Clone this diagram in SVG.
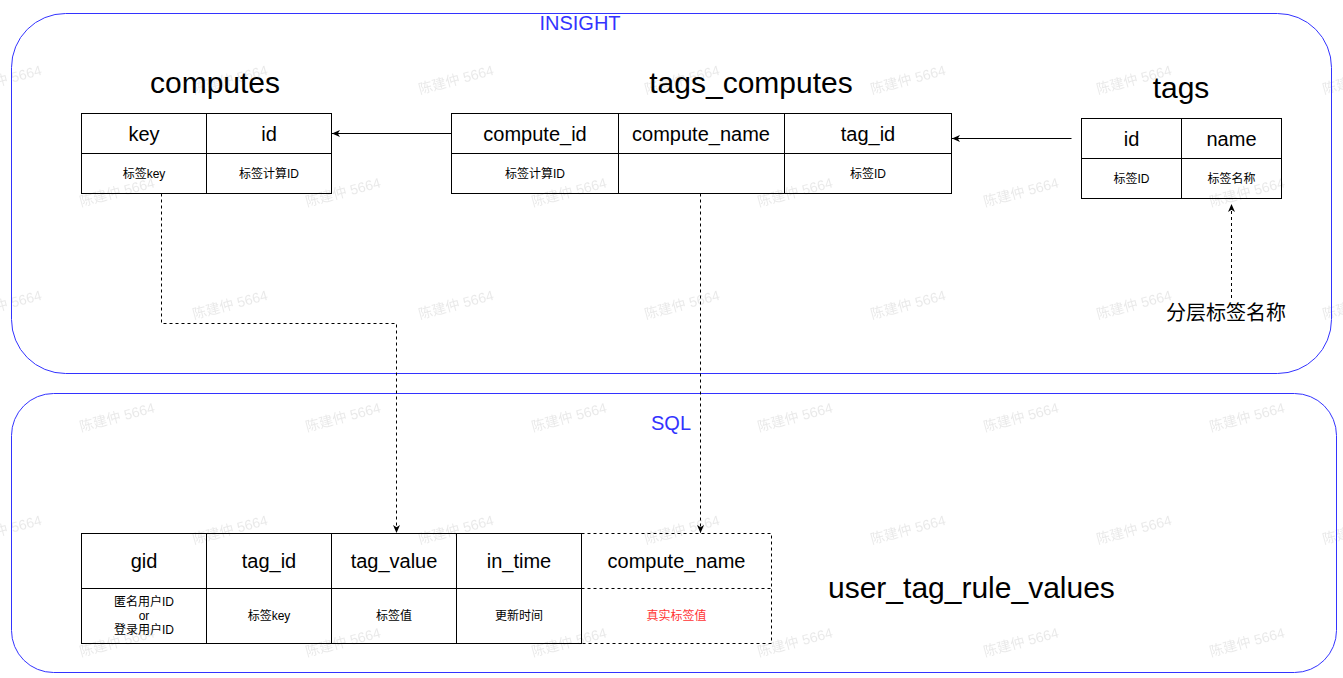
<svg xmlns="http://www.w3.org/2000/svg" width="1343" height="678" viewBox="0 0 1343 678">
<style>
text{font-family:"Liberation Sans","Noto Sans CJK SC",Arial,sans-serif;fill:#000}
.c{text-anchor:middle}
.title{font-size:30px}
.hd{font-size:20px}
.bd{font-size:12px}
.blue{fill:#3333FF;font-size:20px}
.wm{font-size:14px;fill:#000;fill-opacity:0.085}
.cell{fill:none;stroke:#000;stroke-width:1}
.dcell{fill:none;stroke:#000;stroke-width:1;stroke-dasharray:3 3}
.cont{fill:none;stroke:#3333FF;stroke-width:1}
.conn{fill:none;stroke:#000;stroke-width:1}
.dash{stroke-dasharray:3 3}
</style>
<defs>
<marker id="arr" viewBox="0 0 8 8" refX="8" refY="4" markerWidth="8" markerHeight="8" markerUnits="userSpaceOnUse" orient="auto">
<path d="M0,0.5 L8,4 L0,7.5 L2.2,4 Z" fill="#000"/>
</marker>
<pattern id="wmp" patternUnits="userSpaceOnUse" x="57" y="136" width="226" height="225">
<text class="wm c" x="60" y="61" transform="rotate(-15 60 56)">陈建仲 5664</text>
<text class="wm c" x="173" y="173.5" transform="rotate(-15 173 168.5)">陈建仲 5664</text>
</pattern>
</defs>
<rect x="0" y="0" width="1343" height="678" fill="#fff"/>
<rect id="watermark" x="0" y="0" width="1343" height="678" fill="url(#wmp)"/>

<g id="insight">
<rect class="cont" x="11.5" y="13.5" width="1320" height="360" rx="54" ry="54"/>
<text class="blue c" x="580" y="30">INSIGHT</text>
</g>

<g id="sql">
<rect class="cont" x="11.5" y="393.5" width="1325" height="279" rx="42" ry="42"/>
<text class="blue c" x="671" y="430">SQL</text>
</g>

<g id="computes">
<text class="title c" x="215" y="93">computes</text>
<rect class="cell" x="81.5" y="113.5" width="250" height="80"/>
<line class="cell" x1="206.5" y1="113.5" x2="206.5" y2="193.5"/>
<line class="cell" x1="81.5" y1="153.5" x2="331.5" y2="153.5"/>
<text class="hd c" x="144" y="140.5">key</text>
<text class="hd c" x="269" y="140.5">id</text>
<text class="bd c" x="144" y="177.5">标签key</text>
<text class="bd c" x="269" y="177.5">标签计算ID</text>
</g>

<g id="tags_computes">
<text class="title c" x="751" y="93">tags_computes</text>
<rect class="cell" x="451.5" y="113.5" width="500" height="80"/>
<line class="cell" x1="618.5" y1="113.5" x2="618.5" y2="193.5"/>
<line class="cell" x1="784.5" y1="113.5" x2="784.5" y2="193.5"/>
<line class="cell" x1="451.5" y1="153.5" x2="951.5" y2="153.5"/>
<text class="hd c" x="535" y="140.5">compute_id</text>
<text class="hd c" x="701" y="140.5">compute_name</text>
<text class="hd c" x="868" y="140.5">tag_id</text>
<text class="bd c" x="535" y="177.5">标签计算ID</text>
<text class="bd c" x="868" y="177.5">标签ID</text>
</g>

<g id="tags">
<text class="title c" x="1181" y="98">tags</text>
<rect class="cell" x="1081.5" y="118.5" width="200" height="80"/>
<line class="cell" x1="1181.5" y1="118.5" x2="1181.5" y2="198.5"/>
<line class="cell" x1="1081.5" y1="158.5" x2="1281.5" y2="158.5"/>
<text class="hd c" x="1131.5" y="145.5">id</text>
<text class="hd c" x="1231.5" y="145.5">name</text>
<text class="bd c" x="1131.5" y="182.5">标签ID</text>
<text class="bd c" x="1231.5" y="182.5">标签名称</text>
</g>

<g id="layer_name_label">
<text class="hd c" x="1226" y="320">分层标签名称</text>
</g>

<g id="user_tag_rule_values">
<text class="title" x="828" y="598">user_tag_rule_values</text>
<rect class="cell" x="81.5" y="533.5" width="500" height="110"/>
<line class="cell" x1="206.5" y1="533.5" x2="206.5" y2="643.5"/>
<line class="cell" x1="331.5" y1="533.5" x2="331.5" y2="643.5"/>
<line class="cell" x1="456.5" y1="533.5" x2="456.5" y2="643.5"/>
<line class="cell" x1="81.5" y1="588.5" x2="581.5" y2="588.5"/>
<path class="dcell" d="M581.5,533.5 H771.5 V643.5 H581.5"/>
<line class="dcell" x1="581.5" y1="588.5" x2="771.5" y2="588.5"/>
<text class="hd c" x="144" y="568">gid</text>
<text class="hd c" x="269" y="568">tag_id</text>
<text class="hd c" x="394" y="568">tag_value</text>
<text class="hd c" x="519" y="568">in_time</text>
<text class="hd c" x="676.5" y="568">compute_name</text>
<text class="bd c" x="144" y="605.5">匿名用户ID</text>
<text class="bd c" x="144" y="619.5">or</text>
<text class="bd c" x="144" y="633.5">登录用户ID</text>
<text class="bd c" x="269" y="620">标签key</text>
<text class="bd c" x="394" y="620">标签值</text>
<text class="bd c" x="519" y="620">更新时间</text>
<text class="bd c" x="676.5" y="620" style="fill:#FF3333">真实标签值</text>
</g>

<g id="connectors">
<line class="conn" x1="451.5" y1="133.5" x2="332" y2="133.5" marker-end="url(#arr)"/>
<line class="conn" x1="1071.5" y1="138.5" x2="952" y2="138.5" marker-end="url(#arr)"/>
<polyline class="conn dash" points="161.5,193.5 161.5,323.5 396.5,323.5 396.5,533" marker-end="url(#arr)"/>
<line class="conn dash" x1="700.5" y1="193.5" x2="700.5" y2="533" marker-end="url(#arr)"/>
<line class="conn dash" x1="1231.5" y1="298" x2="1231.5" y2="204" marker-end="url(#arr)"/>
</g>
</svg>
